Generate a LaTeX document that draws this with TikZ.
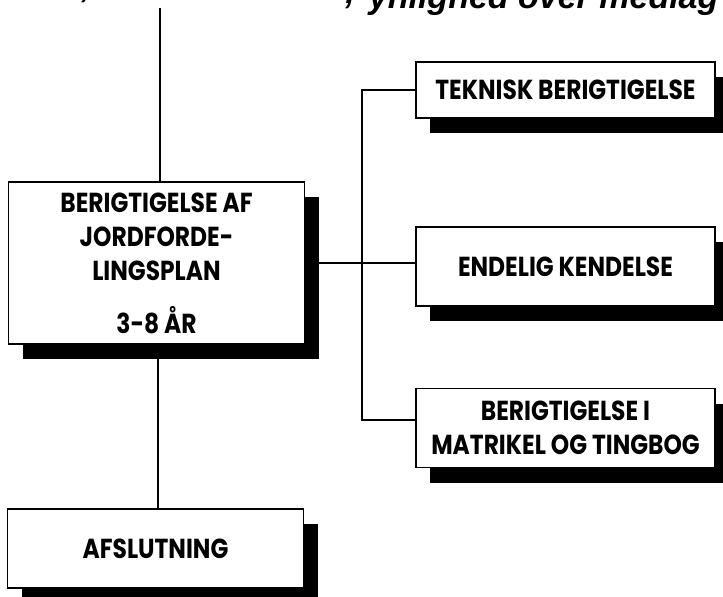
\documentclass[tikz,border=0pt]{standalone}
\usepackage{fontspec}
\setmainfont{Poppins}[FakeStretch=0.85]
\newfontfamily\headfont{Liberation Sans}
\usetikzlibrary{shadows}

\begin{document}
\begin{tikzpicture}[x=1pt,y=-1pt,line width=1.8pt,
  plan box/.style={draw,fill=white,align=center,inner sep=0pt,minimum height=79pt,
    font=\bfseries\fontsize{27.5}{34}\selectfont,
    drop shadow={shadow xshift=14pt,shadow yshift=-15pt,fill=black,opacity=1}}]
\tikzstyle{left box} = [plan box,minimum width=296pt]
\tikzstyle{right box} = [plan box,minimum width=299pt]
\useasboundingbox (0,0) rectangle (723,597);
\coordinate (top) at (160,8);
\coordinate (bus) at (362,263);

% Cut-off heading
\begin{scope}[font=\headfont\bfseries\itshape\fontsize{34}{34}\selectfont]
\clip (0,0) rectangle (723,15);
\node[anchor=base west,inner sep=0pt] (head) at (368,9) {ynlighed over medlag};
\node[anchor=base,inner sep=0pt] (headm) at (350,4) {,};
\node[anchor=base,inner sep=0pt] (headl) at (86,-2) {,};
\end{scope}

% Draw boxes
\node[left box,minimum height=162pt] (berig) at (156.5,263) {BERIGTIGELSE AF\\JORDFORDE-\\LINGSPLAN\\[19pt]3-8 ÅR};
\node[left box] (afslut) at (155.5,548.5) {AFSLUTNING};
\node[right box,minimum height=56pt] (teknisk) at (565.5,90) {TEKNISK BERIGTIGELSE};
\node[right box] (endelig) at (565.5,266.5) {ENDELIG KENDELSE};
\node[right box] (matrikel) at (565.5,428) {BERIGTIGELSE I\\MATRIKEL OG TINGBOG};

% Draw lines
\draw (top) -- (top |- berig.north);
\draw (berig.south -| 158,0) -- (afslut.north -| 158,0);
\draw (berig.east) -- (endelig.west |- berig.east);
\draw (teknisk.west) -- (teknisk.west -| bus) -- (bus |- 0,420) -- (matrikel.west |- 0,420);
\end{tikzpicture}
\end{document}
